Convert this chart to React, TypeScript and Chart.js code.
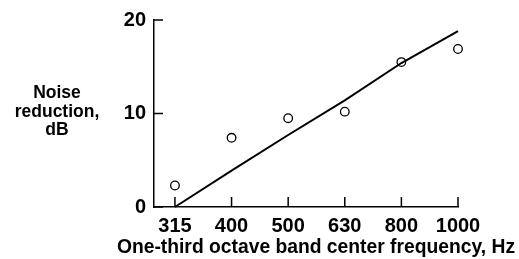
import React, { useEffect, useRef } from "react";
import { Chart, registerables } from "chart.js";

Chart.register(...registerables);

const categories = ["315", "400", "500", "630", "800", "1000"];
const measured = [2.3, 7.4, 9.5, 10.2, 15.5, 16.9];
const fitLine = [0, 3.9, 7.7, 11.4, 15.4, 18.8];
const yTicks = [0, 10, 20];
const yLabelLines = ["Noise", "reduction,", "dB"];
const xTitle = "One-third octave band center frequency, Hz";

const FONT = "'Liberation Sans', Arial, Helvetica, sans-serif";

const decorPlugin = {
  id: "decor",
  afterDraw(chart: any) {
    const { ctx, chartArea, scales } = chart;
    const x = scales.x;
    const y = scales.y;
    ctx.save();
    ctx.strokeStyle = "#000";
    ctx.lineWidth = 1.5;
    yTicks.forEach((v) => {
      const py = y.getPixelForValue(v);
      ctx.beginPath();
      ctx.moveTo(chartArea.left, py);
      ctx.lineTo(chartArea.left + 9, py);
      ctx.stroke();
    });
    categories.forEach((_, i) => {
      const px = x.getPixelForValue(i);
      ctx.beginPath();
      ctx.moveTo(px, chartArea.bottom);
      ctx.lineTo(px, chartArea.bottom - 10);
      ctx.stroke();
    });
    ctx.fillStyle = "#000";
    ctx.font = `bold 17.5px ${FONT}`;
    ctx.textAlign = "center";
    ctx.textBaseline = "middle";
    const cy = (chartArea.top + chartArea.bottom) / 2;
    yLabelLines.forEach((t, i) => {
      ctx.fillText(t, 57, cy - 20 + i * 18.5);
    });
    ctx.font = `bold 19.3px ${FONT}`;
    ctx.fillText(xTitle, 316, 248);
    ctx.restore();
  },
};

export default function App() {
  const ref = useRef<HTMLCanvasElement | null>(null);
  useEffect(() => {
    if (!ref.current) return;
    const chart = new Chart(ref.current, {
      type: "scatter",
      data: {
        datasets: [
          {
            type: "line",
            data: fitLine.map((v, i) => ({ x: i, y: v })),
            borderColor: "#000",
            borderWidth: 2,
            pointRadius: 0,
            fill: false,
            tension: 0,
            clip: false,
          },
          {
            type: "scatter",
            data: measured.map((v, i) => ({ x: i, y: v })),
            borderColor: "#000",
            backgroundColor: "#fff",
            borderWidth: 1.3,
            pointRadius: 4.3,
            clip: false,
          },
        ],
      },
      plugins: [decorPlugin],
      options: {
        animation: false,
        responsive: false,
        devicePixelRatio: 1,
        layout: { padding: { left: 0, top: 20, right: 61, bottom: 0 } },
        plugins: { legend: { display: false }, tooltip: { enabled: false } },
        scales: {
          x: {
            type: "linear",
            min: -0.37,
            max: 5,
            afterBuildTicks: (s: any) => {
              s.ticks = categories.map((_, i) => ({ value: i }));
            },
            afterFit: (s: any) => {
              s.height = 52;
            },
            grid: { display: false, drawTicks: false },
            border: { display: true, color: "#000", width: 1.5 },
            ticks: {
              color: "#000",
              padding: 7,
              maxRotation: 0,
              autoSkip: false,
              font: { family: FONT, size: 20, weight: "bold" },
              callback: (v: any) => categories[v as number] ?? "",
            },
          },
          y: {
            min: 0,
            max: 20,
            afterBuildTicks: (s: any) => {
              s.ticks = yTicks.map((v) => ({ value: v }));
            },
            afterFit: (s: any) => {
              s.width = 154;
            },
            grid: { display: false, drawTicks: false },
            border: { display: true, color: "#000", width: 1.5 },
            ticks: {
              color: "#000",
              padding: 8,
              font: { family: FONT, size: 20, weight: "bold" },
            },
          },
        },
      },
    } as any);
    return () => chart.destroy();
  }, []);
  return (
    <div style={{ position: "fixed", left: 0, top: 0, width: 519, height: 259, background: "#fff" }}>
      <canvas ref={ref} width={519} height={259} style={{ width: 519, height: 259 }} />
    </div>
  );
}
